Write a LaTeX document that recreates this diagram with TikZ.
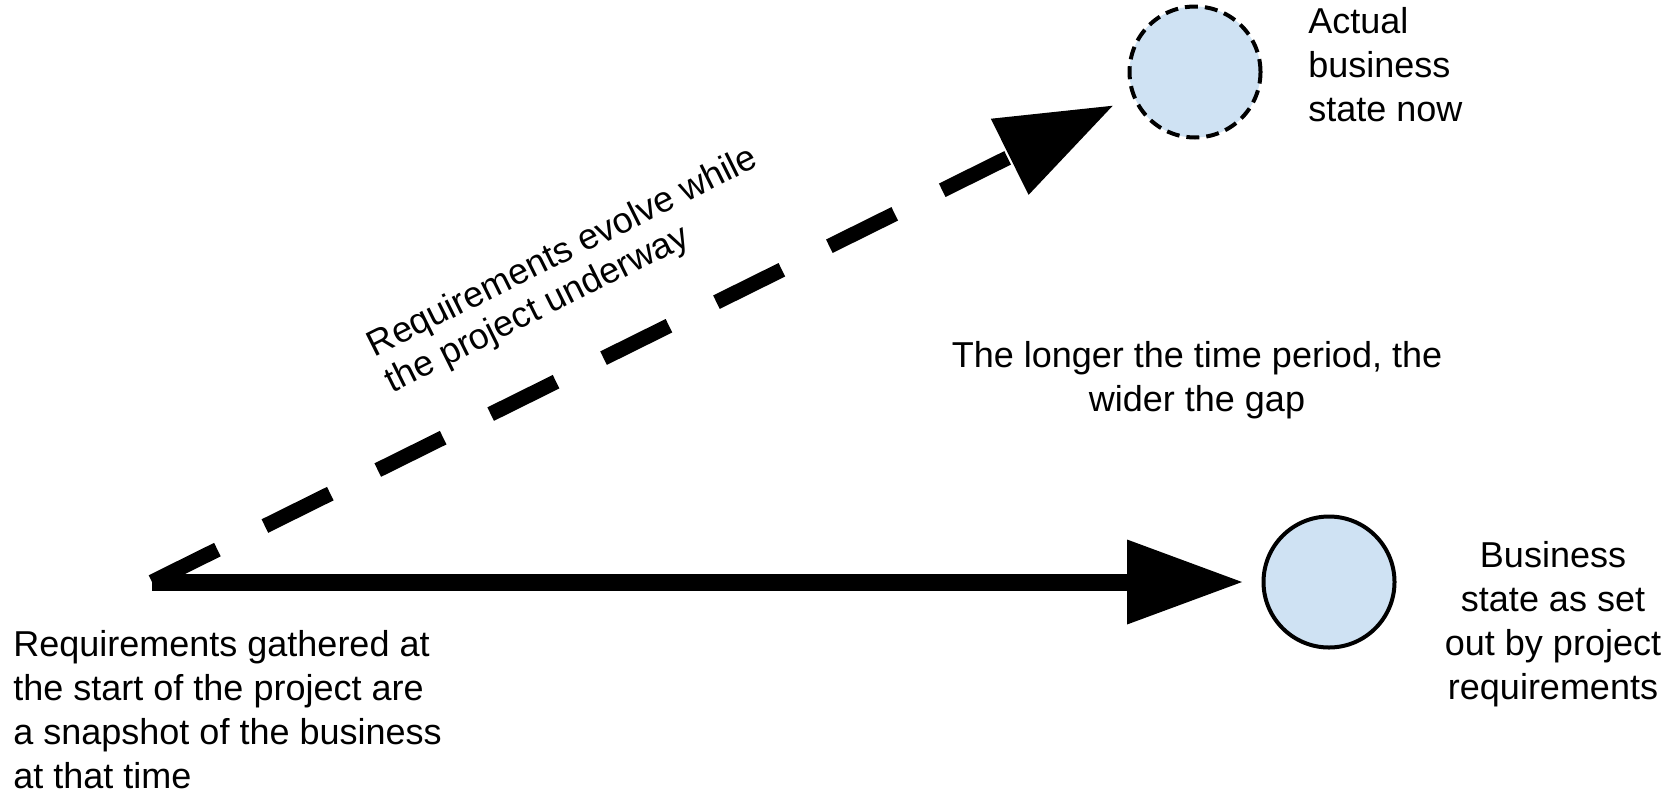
\documentclass[tikz,border=0pt]{standalone}
\usepackage{fontspec}
\setmainfont{Liberation Sans}
\usetikzlibrary{arrows.meta}
\definecolor{lightblue}{HTML}{CFE2F3}
\begin{document}
\begin{tikzpicture}[x=0.5pt,y=-0.5pt,
  state/.style={circle, draw=black, line width=2pt, fill=lightblue, minimum size=65.5pt, inner sep=0pt},
  dashedstate/.style={state, dash pattern=on 6.5pt off 3.5pt},
  lbl/.style={inner sep=0pt, font=\fontsize{18pt}{22pt}\selectfont},
  bigarrow/.style={line width=8.5pt, -{Triangle[length=57.5pt,width=42.5pt,line width=0pt]}},
]
\useasboundingbox (0,0) rectangle (1674,793);
\coordinate (start) at (152,582);
\node[state] (planned) at (1329,582) {};
\node[dashedstate] (actual) at (1195,72) {};
\draw[bigarrow, shorten >=9.75pt] (start) -- (planned);
\draw[bigarrow, line width=7.5pt, dash pattern=on 36.5pt off 26.5pt, shorten >=10.75pt] (start) -- (actual.201);
\node[lbl, anchor=north west, align=left] (snap) at (13,630) {Requirements gathered at\\the start of the project are\\a snapshot of the business\\at that time};
\node[lbl, font=\fontsize{18pt}{20pt}\selectfont, rotate=26.5, align=left] (evolve) at (572,271) {Requirements evolve while\\the project underway};
\node[lbl, anchor=north, align=center] (gap) at (1197,341) {The longer the time period, the\\wider the gap};
\node[lbl, anchor=north, align=center] (plannedlbl) at (1553,541) {Business\\state as set\\out by project\\requirements};
\node[lbl, anchor=north west, align=left] (actuallbl) at (1308,7) {Actual\\business\\state now};
\end{tikzpicture}
\end{document}
